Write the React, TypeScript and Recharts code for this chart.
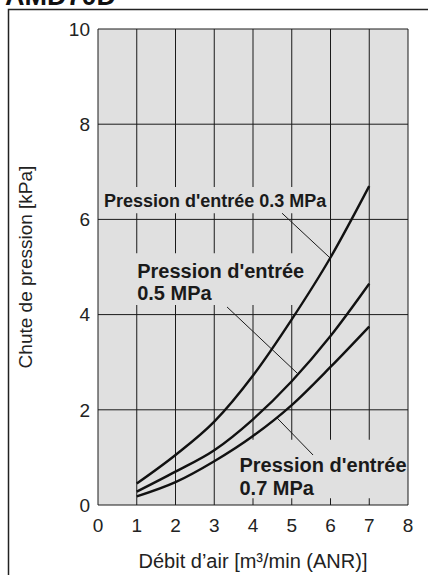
import React from "react";
import {
  CartesianGrid,
  Label,
  Line,
  LineChart,
  ReferenceArea,
  ReferenceLine,
  XAxis,
  YAxis,
} from "recharts";

const FLOW = [1, 2, 3, 4, 5, 6, 7];
const P03 = [0.45, 1.05, 1.75, 2.72, 3.9, 5.2, 6.7];
const P05 = [0.28, 0.7, 1.15, 1.8, 2.6, 3.55, 4.65];
const P07 = [0.18, 0.48, 0.92, 1.45, 2.1, 2.9, 3.75];

const X_TICKS = [0, 1, 2, 3, 4, 5, 6, 7, 8];
const Y_TICKS = [0, 2, 4, 6, 8, 10];

const rows = FLOW.map((q, i) => ({ q, p03: P03[i], p05: P05[i], p07: P07[i] }));

const FONT = "'Liberation Sans', Arial, Helvetica, sans-serif";
const INK = "#1a1a1a";
const PLOT_BG = "#e0e0e0";

// text drawn in the top-left corner of a reference box
const boxText = (lines: string[], size: number, dx: number, dy: number[]) => (props: any) => {
  const { x, y } = props.viewBox;
  return (
    <g>
      {lines.map((t, i) => (
        <text key={i} x={x + dx} y={y + dy[i]} fontFamily={FONT} fontWeight="bold" fontSize={size} fill={INK}>
          {t}
        </text>
      ))}
    </g>
  );
};

const YTitle = (props: any) => {
  const { x, y, height } = props.viewBox;
  const cx = x + 17;
  const cy = y + height / 2;
  return (
    <text x={cx} y={cy} transform={`rotate(-90 ${cx} ${cy})`} textAnchor="middle" dominantBaseline="central"
      fontFamily={FONT} fontSize={19} fill="#222">
      Chute de pression [kPa]
    </text>
  );
};

const XTitle = (props: any) => {
  const { x, y, width } = props.viewBox;
  return (
    <text x={x + width / 2} y={y + 63} textAnchor="middle" fontFamily={FONT} fontSize={20} fill="#222">
      Débit d’air [m³/min (ANR)]
    </text>
  );
};

export default function App() {
  return (
    <div style={{ position: "absolute", left: 0, top: 0, width: 428, height: 575, background: "#fff", overflow: "hidden" }}>
      <svg width={428} height={575} style={{ position: "absolute", left: 0, top: 0 }}>
        <text x={5} y={5} fontFamily={FONT} fontWeight="bold" fontSize={27} fill="#111">AMD70D</text>
        <path d="M8.5 575 L8.5 9.5 L428 9.5" fill="none" stroke="#222" strokeWidth={1.5} />
      </svg>
      <div style={{ position: "absolute", left: 0, top: 0 }}>
        <LineChart width={428} height={575} data={rows} margin={{ top: 29, right: 20, bottom: 30, left: 8 }}>
          <CartesianGrid stroke={INK} strokeWidth={1} fill={PLOT_BG} fillOpacity={1}
            verticalValues={X_TICKS} horizontalValues={Y_TICKS} />
          <XAxis type="number" dataKey="q" domain={[0, 8]} ticks={X_TICKS} height={40}
            axisLine={false} tickLine={false} tickMargin={8}
            tick={{ fontSize: 19, fill: "#222", fontFamily: FONT }}>
            <Label content={XTitle} />
          </XAxis>
          <YAxis type="number" domain={[0, 10]} ticks={Y_TICKS} width={90}
            axisLine={false} tickLine={false}
            tick={{ fontSize: 19, fill: "#222", fontFamily: FONT }}>
            <Label content={YTitle} />
          </YAxis>

          <ReferenceArea x1={0.05} x2={5.86} y1={6.13} y2={6.68} fill={PLOT_BG} fillOpacity={1} stroke="none">
            <Label content={boxText(["Pression d'entrée 0.3 MPa"], 18, 4, [20])} />
          </ReferenceArea>
          <ReferenceArea x1={0.83} x2={5.1} y1={4.2} y2={5.29} fill={PLOT_BG} fillOpacity={1} stroke="none">
            <Label content={boxText(["Pression d'entrée", "0.5 MPa"], 20, 7, [25, 47])} />
          </ReferenceArea>
          <ReferenceArea x1={3.6} x2={7.9} y1={0.14} y2={1.37} fill={PLOT_BG} fillOpacity={1} stroke="none">
            <Label content={boxText(["Pression d'entrée", "0.7 MPa"], 20, 2, [32, 55])} />
          </ReferenceArea>

          <ReferenceLine segment={[{ x: 4.75, y: 6.13 }, { x: 5.99, y: 5.19 }]} stroke={INK} strokeWidth={1} />
          <ReferenceLine segment={[{ x: 3.33, y: 4.16 }, { x: 5.14, y: 2.77 }]} stroke={INK} strokeWidth={1} />
          <ReferenceLine segment={[{ x: 4.62, y: 1.83 }, { x: 5.55, y: 1.05 }]} stroke={INK} strokeWidth={1} />

          <Line dataKey="p03" type="monotone" stroke="#111" strokeWidth={2.4} dot={false} isAnimationActive={false} />
          <Line dataKey="p05" type="monotone" stroke="#111" strokeWidth={2.4} dot={false} isAnimationActive={false} />
          <Line dataKey="p07" type="monotone" stroke="#111" strokeWidth={2.4} dot={false} isAnimationActive={false} />
        </LineChart>
      </div>
    </div>
  );
}
